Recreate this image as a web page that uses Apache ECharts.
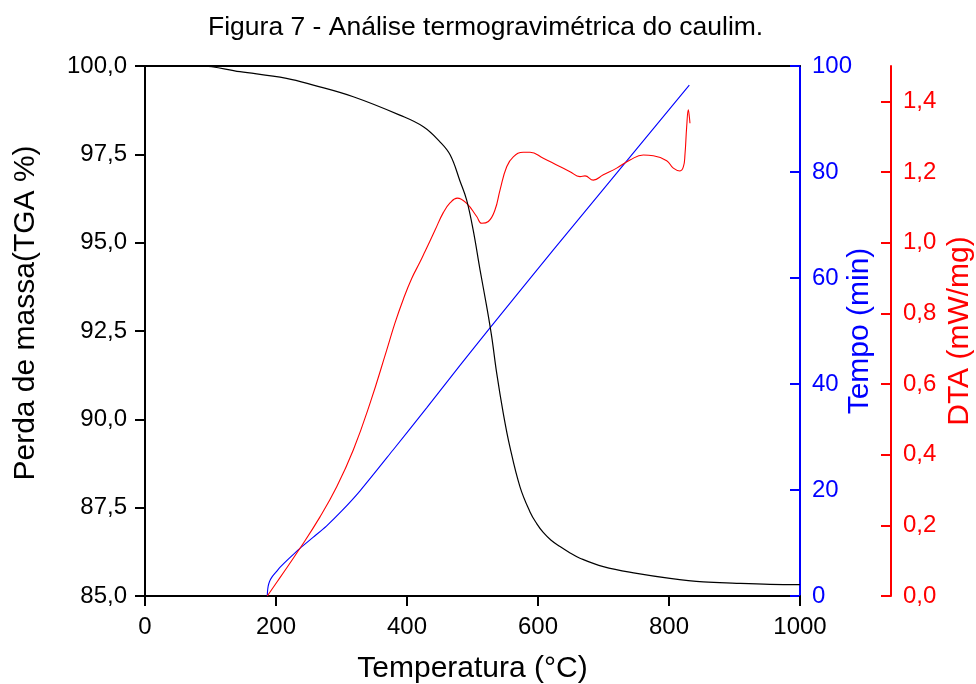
<!DOCTYPE html>
<html>
<head>
<meta charset="utf-8">
<script src="https://cdn.jsdelivr.net/npm/echarts@6/dist/echarts.min.js"></script>
<style>
  html, body { margin: 0; padding: 0; background: #fff; }
  #chart { width: 976px; height: 684px; }
</style>
</head>
<body>
<div id="chart"></div>
<script>
// TGA: mass loss (%) against temperature (°C)
var tgaTemp = [0, 84, 145, 216, 257, 318, 389, 425, 450, 466, 481, 491, 501, 511.5, 521.7, 529.3, 537, 547, 557, 572.5, 587.8, 598, 608, 620, 633.6, 649, 664, 699.7, 750.7, 801.5, 852.4, 903.4, 954.2, 1000];
var tgaMass = [100, 100, 99.84, 99.65, 99.46, 99.13, 98.61, 98.28, 97.86, 97.48, 96.74, 96.21, 95.36, 94.23, 93.19, 92.34, 91.30, 90.17, 89.23, 88.09, 87.38, 87.05, 86.80, 86.58, 86.40, 86.22, 86.07, 85.83, 85.64, 85.50, 85.40, 85.36, 85.33, 85.32];

// Elapsed time (min) against temperature (°C)
var timeTemp = [186.7, 187, 188, 190, 194, 200, 206, 220, 236.6, 257, 277, 300, 328, 379, 430, 480.9, 526.7, 623.4, 831];
var timeMin = [0, 0.8, 1.8, 2.7, 3.6, 4.5, 5.4, 7.1, 9.0, 11.1, 13.2, 16.0, 19.8, 27.6, 35.5, 43.5, 50.6, 65.3, 96.4];

// DTA signal (mW/mg) against temperature (°C)
var dtaTemp = [186.7, 206.1, 236.6, 267.2, 292.7, 318, 343.5, 369, 381.7, 394.4, 407, 419.8, 427.5, 442.7, 455.4, 466, 476.8, 491.1, 506.4, 514, 524.2, 534.4, 542, 552.2, 562.3, 577.6, 587.8, 608.1, 628.5, 648.9, 664.1, 671.8, 684.4, 699.7, 720.1, 740.5, 760.8, 776.1, 796.5, 806.6, 816.8, 822, 824.4, 827, 829.5, 831, 832];
var dtaVal = [0, 0.052, 0.135, 0.224, 0.309, 0.413, 0.545, 0.696, 0.773, 0.840, 0.898, 0.945, 0.975, 1.035, 1.085, 1.113, 1.126, 1.111, 1.074, 1.055, 1.060, 1.093, 1.149, 1.215, 1.243, 1.256, 1.256, 1.239, 1.220, 1.201, 1.187, 1.189, 1.177, 1.192, 1.211, 1.234, 1.248, 1.246, 1.232, 1.211, 1.203, 1.215, 1.25, 1.328, 1.376, 1.357, 1.338];

// Tick values
var xTicks = [0, 200, 400, 600, 800, 1000];
var tgaTicks = [85, 87.5, 90, 92.5, 95, 97.5, 100];
var timeTicks = [0, 20, 40, 60, 80, 100];
var dtaTicks = [0, 0.2, 0.4, 0.6, 0.8, 1.0, 1.2, 1.4];

function pairs(xs, ys) {
  return xs.map(function (x, i) { return [x, ys[i]]; });
}
function comma(v, d) {
  return v.toFixed(d).replace('.', ',');
}

var FONT = 'Liberation Sans, Arial, sans-serif';
var BLUE = '#0000ff';
var RED = '#ff0000';

var chart = echarts.init(document.getElementById('chart'), null, { renderer: 'canvas' });

chart.setOption({
  animation: false,
  backgroundColor: '#ffffff',
  title: {
    text: 'Figura 7 - Análise termogravimétrica do caulim.',
    left: 203,
    top: 9,
    textStyle: { fontFamily: FONT, fontSize: 26.5, fontWeight: 'normal', color: '#000' }
  },
  grid: { left: 145, right: 176, top: 66, bottom: 88, containLabel: false, outerBoundsMode: 'none' },
  xAxis: [
    {
      type: 'value', min: 0, max: 1000, interval: 200, position: 'bottom',
      name: 'Temperatura (°C)', nameLocation: 'middle', nameGap: 58,
      nameTextStyle: { fontFamily: FONT, fontSize: 30, color: '#000' },
      axisLine: { show: true, onZero: false, lineStyle: { color: '#000', width: 2 } },
      axisTick: { show: true, inside: false, length: 10, lineStyle: { color: '#000', width: 2 }, customValues: xTicks },
      axisLabel: { fontFamily: FONT, fontSize: 24, color: '#000', margin: 19, customValues: xTicks,
        formatter: function (v) { return String(v); } },
      splitLine: { show: false }
    },
    {
      type: 'value', min: 0, max: 1000, position: 'top',
      axisLine: { show: true, onZero: false, lineStyle: { color: '#000', width: 2 } },
      axisTick: { show: false }, axisLabel: { show: false }, splitLine: { show: false }
    }
  ],
  yAxis: [
    {
      type: 'value', min: 85, max: 100, interval: 2.5, position: 'left',
      name: 'Perda de massa(TGA %)', nameLocation: 'middle', nameGap: 104, nameRotate: 90,
      nameTextStyle: { fontFamily: FONT, fontSize: 30, color: '#000', padding: [0, 0, 0, 36] },
      axisLine: { show: true, onZero: false, lineStyle: { color: '#000', width: 2 } },
      axisTick: { show: true, inside: false, length: 10, lineStyle: { color: '#000', width: 2 }, customValues: tgaTicks },
      axisLabel: { fontFamily: FONT, fontSize: 24, color: '#000', margin: 18, customValues: tgaTicks,
        formatter: function (v) { return comma(v, 1); } },
      splitLine: { show: false }
    },
    {
      type: 'value', min: 0, max: 100, interval: 20, position: 'right', offset: 0,
      name: 'Tempo (min)', nameLocation: 'middle', nameGap: 45, nameRotate: 90, nameMoveOverlap: false,
      nameTextStyle: { fontFamily: FONT, fontSize: 30, color: BLUE },
      axisLine: { show: true, onZero: false, lineStyle: { color: BLUE, width: 2 } },
      axisTick: { show: true, inside: true, length: 10, lineStyle: { color: BLUE, width: 2 }, customValues: timeTicks },
      axisLabel: { fontFamily: FONT, fontSize: 24, color: BLUE, margin: 12, customValues: timeTicks },
      splitLine: { show: false }
    },
    {
      type: 'value', min: 0, max: 1.5, position: 'right', offset: 91,
      name: 'DTA (mW/mg)', nameLocation: 'middle', nameGap: 54, nameRotate: 90, nameMoveOverlap: false,
      nameTextStyle: { fontFamily: FONT, fontSize: 30, color: RED },
      axisLine: { show: true, onZero: false, lineStyle: { color: RED, width: 2 } },
      axisTick: { show: true, inside: true, length: 10, lineStyle: { color: RED, width: 2 }, customValues: dtaTicks },
      axisLabel: { fontFamily: FONT, fontSize: 24, color: RED, margin: 12, customValues: dtaTicks,
        formatter: function (v) { return comma(v, 1); } },
      splitLine: { show: false }
    }
  ],
  series: [
    {
      name: 'TGA', type: 'line', xAxisIndex: 0, yAxisIndex: 0,
      data: pairs(tgaTemp, tgaMass), showSymbol: false, smooth: 0.4,
      lineStyle: { color: '#000', width: 1.2 }, z: 3
    },
    {
      name: 'Tempo', type: 'line', xAxisIndex: 0, yAxisIndex: 1,
      data: pairs(timeTemp, timeMin), showSymbol: false, smooth: 0.25,
      lineStyle: { color: BLUE, width: 1.1 }, z: 2
    },
    {
      name: 'DTA', type: 'line', xAxisIndex: 0, yAxisIndex: 2,
      data: pairs(dtaTemp, dtaVal), showSymbol: false, smooth: 0.45,
      lineStyle: { color: RED, width: 1.1 }, z: 2
    }
  ]
});
</script>
</body>
</html>
